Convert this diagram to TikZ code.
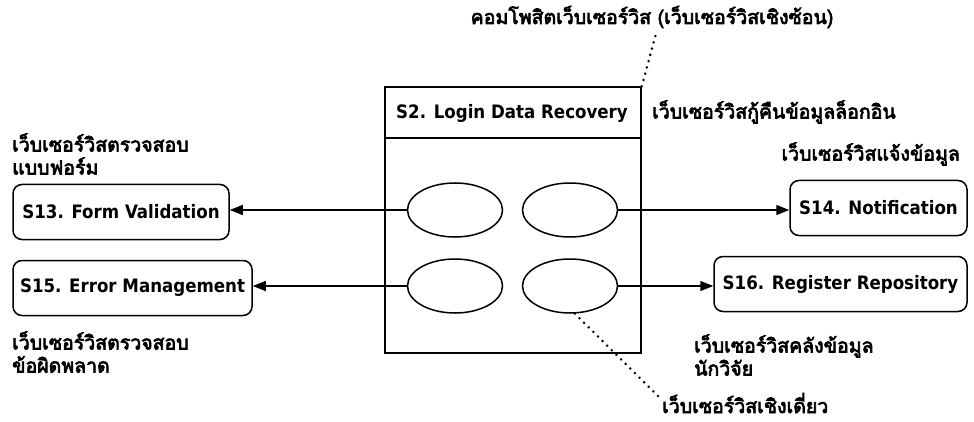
\documentclass[tikz,border=0pt]{standalone}
\usepackage{fontspec}
\setmainfont{DejaVu Sans}
\newfontfamily\boxfont{DejaVu Sans Condensed}
\newfontfamily\thaifont[Script=Thai,FakeBold=3.5]{Loma}
\usetikzlibrary{arrows.meta,shapes.geometric}
\begin{document}
\begin{tikzpicture}[x=1pt,y=-1pt,
  lw/.style={line width=1.5pt},
  lat/.style={font=\fontsize{18.5}{22}\selectfont\boxfont\bfseries},
  svc/.style={draw,lw,lat,rounded corners=9pt,minimum height=55pt,inner sep=2pt},
  oval/.style={draw,lw,ellipse,minimum width=95pt,minimum height=54pt,inner sep=0pt},
  th/.style={font=\fontsize{19.5}{23}\selectfont\thaifont,inner sep=0pt,align=left},
  conn/.style={lw,-{Triangle[length=13pt,width=10pt]}},
  dots/.style={line width=2.8pt,line cap=round,dash pattern=on 0pt off 6.5pt}]
\useasboundingbox (0,0) rectangle (974,422);
% composite box
\node[draw,lw,minimum width=256pt,minimum height=266pt,inner sep=0pt] (s2) at (513,220) {};
\node[lat] (s2t) at (512,113) {S2. Login Data Recovery};
\coordinate (dv) at (513,138);
\draw[lw] (s2.west |- dv) -- (s2.east |- dv);
% ellipses
\node[oval] (e1) at (455,210) {};
\node[oval] (e2) at (570,210) {};
\node[oval] (e3) at (455,286) {};
\node[oval] (e4) at (570,286) {};
% services
\node[svc,minimum width=216pt] (s13) at (121,212) {S13. Form Validation};
\node[svc,minimum width=239pt] (s15) at (132.5,288) {S15. Error Management};
\node[svc,minimum width=177pt] (s14) at (878.5,208) {S14. Notification};
\node[svc,minimum width=253pt] (s16) at (840.5,284) {S16. Register Repository};
% connectors
\draw[conn] (e1.west) -- (e1.west -| s13.east);
\draw[conn] (e3.west) -- (e3.west -| s15.east);
\draw[conn] (e2.east) -- (e2.east -| s14.west);
\draw[conn] (e4.east) -- (e4.east -| s16.west);
% labels
\node[th,anchor=center] (ltop) at (652,17) {คอมโพสิตเว็บเซอร์วิส (เว็บเซอร์วิสเชิงซ้อน)};
\node[th,anchor=west] (lrec) at (652,112) {เว็บเซอร์วิสกู้คืนข้อมูลล็อกอิน};
\node[th,anchor=west] (lform) at (12,154) {เว็บเซอร์วิสตรวจสอบ\\แบบฟอร์ม};
\node[th,anchor=east] (lnot) at (960,154) {เว็บเซอร์วิสแจ้งข้อมูล};
\node[th,anchor=west] (lerr) at (12,352) {เว็บเซอร์วิสตรวจสอบ\\ข้อผิดพลาด};
\node[th,anchor=west] (lrepo) at (694,355) {เว็บเซอร์วิสคลังข้อมูล\\นักวิจัย};
\node[th,anchor=base west] (lsingle) at (662,413) {เว็บเซอร์วิสเชิงเดี่ยว};
% dotted pointers
\coordinate (ctop) at (657,30);
\draw[dots] (s2.north east) -- (ctop);
\coordinate (cbot) at (662,400);
\draw[dots] (e4.-80) -- (cbot);
\end{tikzpicture}
\end{document}
